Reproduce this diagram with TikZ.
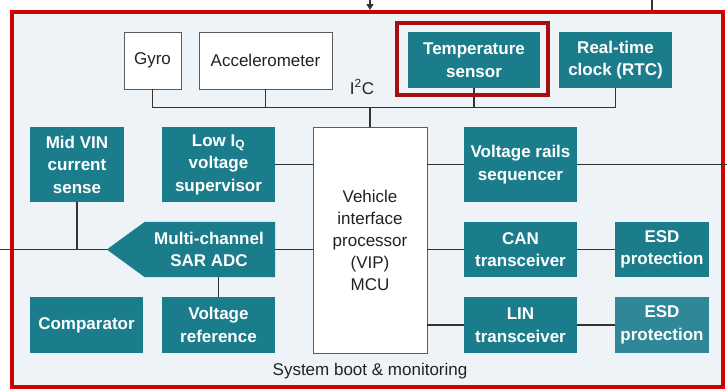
\documentclass[tikz,border=0pt]{standalone}
\usepackage{fontspec}
\setmainfont{Liberation Sans}
\usetikzlibrary{arrows.meta}
\definecolor{tealb}{HTML}{1B7D8C}
\definecolor{tealc}{HTML}{2F8798}
\definecolor{framered}{HTML}{D40000}
\definecolor{hlred}{HTML}{A50F0F}
\definecolor{bgc}{HTML}{EDF3F6}
\definecolor{linec}{HTML}{333333}
\definecolor{txtc}{HTML}{222222}
\tikzset{
  base/.style={inner sep=0pt, align=center, font=\fontsize{17}{22}\selectfont},
  tealbox/.style={base, fill=tealb, text=white, font=\fontsize{17}{22.5}\selectfont\bfseries},
  whitebox/.style={base, fill=white, draw=linec!80, line width=0.9pt, text=txtc},
  conn/.style={draw=linec, line width=1.4pt},
  hlbox/.style={draw=hlred, line width=4.5pt, inner sep=0pt},
  lbl/.style={base, text=txtc}
}
\begin{document}
\begin{tikzpicture}[x=1pt,y=-1pt]
\useasboundingbox (0,0) rectangle (727,391);
% outer frame
\draw[framered, line width=4.5pt, fill=bgc] (12,12) rectangle (723,387);
% external connectors
\coordinate (tarrowA) at (370,-2);
\coordinate (tarrowB) at (370,10);
\draw[conn, -{Triangle[length=6pt,width=7pt]}] (tarrowA) -- (tarrowB);
\coordinate (tlineA) at (652,0);
\coordinate (tlineB) at (652,10);
\draw[conn] (tlineA) -- (tlineB);

% nodes
\node[whitebox, minimum width=57pt, minimum height=57pt] (gyro) at (152.5,60.5) {Gyro};
\node[whitebox, minimum width=133pt, minimum height=57pt] (acc) at (265.5,60.5) {Accelerometer};
\node[tealbox, minimum width=132pt, minimum height=56pt] (temp) at (474,60) {Temperature\\sensor};
\node[tealbox, minimum width=113pt, minimum height=56pt] (rtc) at (615.5,60) {Real-time\\clock (RTC)};
\node[whitebox, minimum width=114pt, minimum height=226pt] (vip) at (370,240) {Vehicle\\interface\\processor\\(VIP)\\MCU};
\node[tealbox, minimum width=94pt, minimum height=75pt] (mid) at (77,164.5) {Mid VIN\\current\\sense};
\node[tealbox, minimum width=113pt, minimum height=75pt] (low) at (218.5,164.5) {Low I\textsubscript{Q}\\voltage\\supervisor};
\node[tealbox, minimum width=113pt, minimum height=75pt] (seq) at (520.5,164.5) {Voltage rails\\sequencer};
% ADC (pentagon pointing left)
\node[inner sep=0pt, minimum width=168pt, minimum height=55pt] (adc) at (191,249.5) {};
\fill[tealb] (adc.west) -- ([xshift=38pt]adc.north west) -- (adc.north east) -- (adc.south east) -- ([xshift=38pt]adc.south west) -- cycle;
\node[tealbox, fill=none] (adct) at (209,249.5) {Multi-channel\\SAR ADC};
\node[tealbox, minimum width=113pt, minimum height=56pt] (vref) at (218.5,325) {Voltage\\reference};
\node[tealbox, minimum width=113pt, minimum height=56pt] (comp) at (86.5,325) {Comparator};
\node[tealbox, minimum width=113pt, minimum height=55pt] (can) at (520.5,249.5) {CAN\\transceiver};
\node[tealbox, minimum width=94pt, minimum height=55pt] (esda) at (662,249.5) {ESD\\protection};
\node[tealbox, minimum width=113pt, minimum height=56pt] (lin) at (520.5,325) {LIN\\transceiver};
\node[tealbox, fill=tealc, minimum width=94pt, minimum height=56pt] (esdb) at (662,325) {ESD\\protection};

% labels
\node[lbl] (i2c) at (362,87) {I\textsuperscript{2}C};
\node[lbl] (sysl) at (370,371) {System boot \& monitoring};

% I2C bus
\draw[conn] (gyro.south) -- ++(0,18) coordinate (bl) -| (rtc.south);
\draw[conn] (acc.south) -- (acc.south |- bl);
\draw[conn] (temp.south) -- (temp.south |- bl);
\draw[conn] (vip.north) -- (vip.north |- bl);

% other connectors
\draw[conn] (low.east) -- (low.east -| vip.west);
\draw[conn] (seq.west -| vip.east) -- (seq.west);
\coordinate (rend) at (727,164.5);
\draw[conn] (seq.east) -- (rend);
\draw[conn] (adc.east) -- (adc.east -| vip.west);
\coordinate (lend) at (0,249.5);
\draw[conn] (lend) -- (adc.west);
\draw[conn] (mid.south) -- (mid.south |- adc.west);
\draw[conn] (vref.north) -- (vref.north |- adc.south);
\draw[conn] (can.west -| vip.east) -- (can.west);
\draw[conn] (can.east) -- (esda.west);
\draw[conn] (lin.west -| vip.east) -- (lin.west);
\draw[conn] (lin.east) -- (esdb.west);

% highlight
\node[hlbox, minimum width=151pt, minimum height=72pt] (hl) at (472.5,59) {};
\end{tikzpicture}
\end{document}
